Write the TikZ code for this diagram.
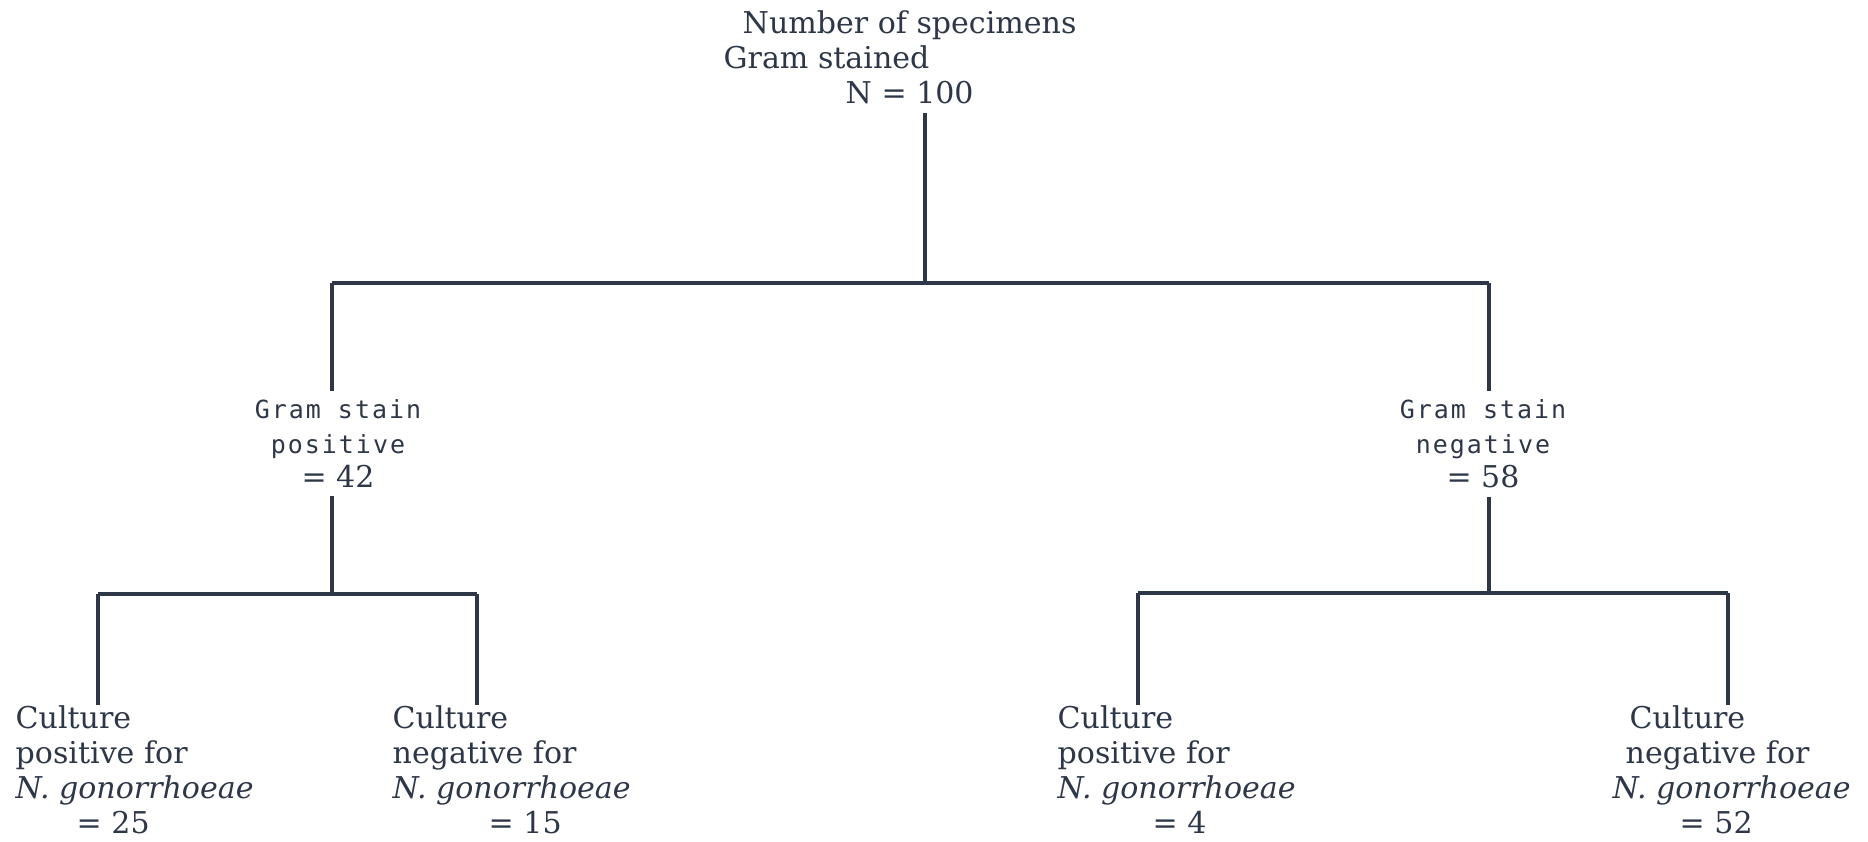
\documentclass[tikz,border=0pt]{standalone}
\usepackage{fontspec}
\setmainfont{DejaVu Serif}
\newfontfamily\gramfont[LetterSpace=8]{DejaVu Sans Mono}
\usetikzlibrary{positioning}
\definecolor{ink}{RGB}{45,55,72}

\begin{document}
\begin{tikzpicture}[x=0.1mm,y=-0.1mm,
    lbl/.style={inner sep=0pt,text=ink,align=left,anchor=north west,font=\fontsize{8.55}{10}\selectfont},
    grm/.style={inner sep=0pt,text=ink,align=center,anchor=north,font=\fontsize{8.55}{9.8}\selectfont},
    wire/.style={draw=ink,line width=1pt}
  ]
    \useasboundingbox (0,0) rectangle (1868,841);
    % top of the tree
    \node[lbl] (root) at (723,10) {\hspace*{1.9mm}Number of specimens\\Gram stained\\\hspace*{12.2mm}N = 100};
    \node[grm] (gpos) at (338,399) {{\gramfont\fontsize{7.1}{9.8}\selectfont Gram stain}\\{\gramfont\fontsize{7.1}{9.8}\selectfont positive}\\= 42};
    \node[grm] (gneg) at (1483,399) {{\gramfont\fontsize{7.1}{9.8}\selectfont Gram stain}\\{\gramfont\fontsize{7.1}{9.8}\selectfont negative}\\= 58};
    % culture results
    \node[lbl] (cp1) at (15,705) {Culture\\positive for\\\textit{N. gonorrhoeae}\\\hspace*{6.1mm}= 25};
    \node[lbl] (cn1) at (392,705) {Culture\\negative for\\\textit{N. gonorrhoeae}\\\hspace*{9.6mm}= 15};
    \node[lbl] (cp2) at (1057,705) {Culture\\positive for\\\textit{N. gonorrhoeae}\\\hspace*{9.5mm}= 4};
    \node[lbl] (cn2) at (1612,705) {\hspace*{1.7mm}Culture\\\hspace*{1.3mm}negative for\\\textit{N. gonorrhoeae}\\\hspace*{6.7mm}= 52};
    \coordinate (tm) at (925,283); \coordinate (tl) at (332,283); \coordinate (tr) at (1489,283);
    \coordinate (bl) at (98,594); \coordinate (br) at (477,594);
    \coordinate (cl) at (1138,593); \coordinate (cr) at (1728,593);
    \draw[wire] (tl) -- (tr);
    \draw[wire,shorten <=.8mm] (root.south -| tm) -- (tm);
    \foreach \j/\n in {tl/gpos,tr/gneg} {
      \draw[wire,shorten >=.8mm] (\j) -- (\j |- \n.north);
    }
    \draw[wire,shorten <=.8mm] (tl |- gpos.south) -- (tl |- bl);
    \draw[wire,shorten <=.8mm] (tr |- gneg.south) -- (tr |- cl);
    \draw[wire] (bl) -- (br);
    \draw[wire] (cl) -- (cr);
    \foreach \j/\n in {bl/cp1,br/cn1,cl/cp2,cr/cn2} {
      \draw[wire] (\j) -- (\j |- \n.north);
    }
\end{tikzpicture}
\end{document}
